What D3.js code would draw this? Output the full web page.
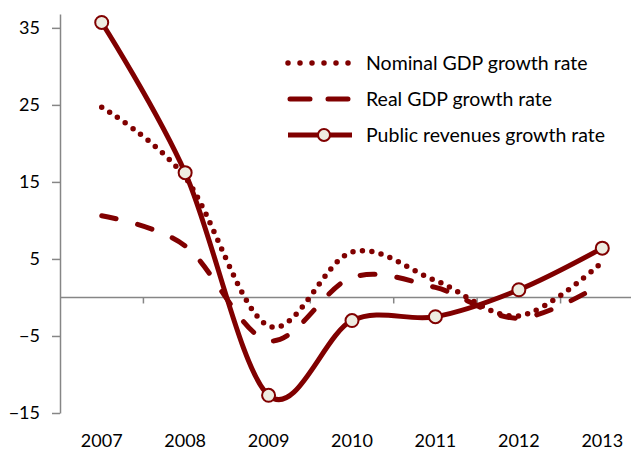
<!DOCTYPE html>
<html lang="en">
<head>
  <meta charset="UTF-8" />
  <title>Growth rates</title>
  <script src="https://d3js.org/d3.v7.min.js"></script>
  <style>
    body { margin: 0; background: #fff; }
    text { font-family: Lato, "Open Sans", sans-serif; fill: #000; }
  </style>
</head>
<body>
  <script>
    // data
    const years = ['2007', '2008', '2009', '2010', '2011', '2012', '2013'];
    const nominal = [24.7, 15.6, -3.7, 5.9, 2.2, -2.4, 4.6];
    const real = [10.6, 6.7, -5.6, 2.6, 1.3, -2.7, 1.8];
    const revenues = [35.7, 16.2, -12.7, -3.0, -2.5, 1.0, 6.4];
    const yTicks = [-15, -5, 5, 15, 25, 35];

    const width = 631, height = 450;
    const dark = '#800000', markerFill = '#eeece1', axisGrey = '#868686';

    const svg = d3.select('body').append('svg')
      .attr('width', width)
      .attr('height', height);

    const x = d3.scaleBand().domain(years).range([60, 644]);
    const y = d3.scaleLinear().domain([-15, 36.8]).range([413, 14]);
    const cx = d => x(d) + x.bandwidth() / 2;

    //y axis
    const yAxis = d3.axisLeft(y).tickValues(yTicks).tickSize(8).tickPadding(12).tickSizeOuter(0);
    const gy = svg.append('g').attr('transform', 'translate(60,0)').call(yAxis);
    gy.select('.domain').attr('stroke', axisGrey).attr('stroke-width', 1.5);
    gy.selectAll('.tick line').attr('stroke', axisGrey).attr('stroke-width', 1.5);
    gy.selectAll('.tick text').style('font-size', '18px').attr('fill', '#000');

    //x axis at zero
    const gx = svg.append('g').attr('transform', `translate(0,${y(0)})`);
    gx.append('line').attr('x1', 60).attr('x2', width).attr('stroke', axisGrey).attr('stroke-width', 1.5);
    gx.selectAll('.xt')
      .data(years.slice(1))
      .join('line')
      .attr('x1', d => x(d)).attr('x2', d => x(d))
      .attr('y1', 0).attr('y2', 6)
      .attr('stroke', axisGrey).attr('stroke-width', 1.5);

    svg.selectAll('.year')
      .data(years)
      .join('text')
      .attr('class', 'year')
      .attr('x', d => cx(d))
      .attr('y', 447)
      .attr('text-anchor', 'middle')
      .style('font-size', '18px')
      .text(d => d);

    //lines, smoothed like the spreadsheet
    const line = d3.line()
      .x((d, i) => cx(years[i]))
      .y(d => y(d))
      .curve(d3.curveCardinal.tension(0));

    svg.append('path')
      .attr('d', line(nominal))
      .attr('fill', 'none')
      .attr('stroke', dark)
      .attr('stroke-width', 5.5)
      .attr('stroke-linecap', 'round')
      .attr('stroke-dasharray', '0,9.5');

    svg.append('path')
      .attr('d', line(real))
      .attr('fill', 'none')
      .attr('stroke', dark)
      .attr('stroke-width', 5)
      .attr('stroke-linecap', 'round')
      .attr('stroke-dasharray', '15,22');

    svg.append('path')
      .attr('d', line(revenues))
      .attr('fill', 'none')
      .attr('stroke', dark)
      .attr('stroke-width', 5)
      .attr('stroke-linejoin', 'round');

    svg.selectAll('.marker')
      .data(revenues)
      .join('circle')
      .attr('class', 'marker')
      .attr('cx', (d, i) => cx(years[i]))
      .attr('cy', d => y(d))
      .attr('r', 6.5)
      .attr('fill', markerFill)
      .attr('stroke', dark)
      .attr('stroke-width', 2);

    //legend
    const legendItems = [
      { name: 'Nominal GDP growth rate', dash: '0,12', w: 5.5, marker: false },
      { name: 'Real GDP growth rate', dash: '20,18', w: 5, marker: false },
      { name: 'Public revenues growth rate', dash: null, w: 5, marker: true }
    ];
    const legend = svg.append('g').attr('id', 'legend');
    const rows = legend.selectAll('g')
      .data(legendItems)
      .join('g')
      .attr('transform', (d, i) => `translate(288,${63 + i * 36})`);
    rows.append('line')
      .attr('x1', d => d.dash === '20,18' ? 2 : 0)
      .attr('x2', 64)
      .attr('stroke', dark)
      .attr('stroke-width', d => d.w)
      .attr('stroke-linecap', d => d.dash ? 'round' : 'butt')
      .attr('stroke-dasharray', d => d.dash);
    rows.filter(d => d.marker).append('circle')
      .attr('cx', 36).attr('r', 6)
      .attr('fill', markerFill).attr('stroke', dark).attr('stroke-width', 2);
    rows.append('text')
      .attr('x', 78)
      .attr('dy', '0.35em')
      .style('font-size', '19.5px')
      .text(d => d.name);
  </script>
</body>
</html>
